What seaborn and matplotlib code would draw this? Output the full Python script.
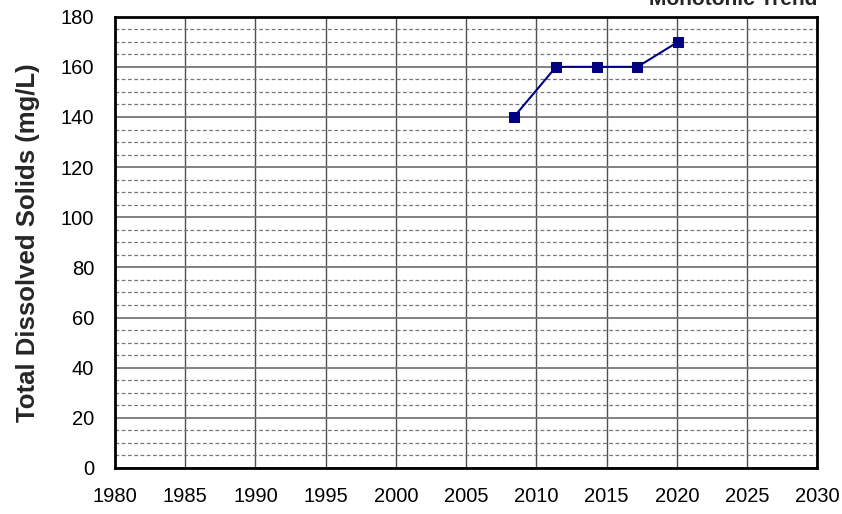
import matplotlib
matplotlib.use("Agg")
import matplotlib.pyplot as plt
import seaborn as sns
import pandas as pd
from matplotlib.ticker import MultipleLocator

years = [2008.4, 2011.4, 2014.3, 2017.2, 2020.1]
tds = [140, 160, 160, 160, 170]

df = pd.DataFrame({"year": years, "tds": tds})

sns.set_theme(style="white")
plt.rcParams["font.family"] = ["Liberation Sans", "DejaVu Sans"]

fig = plt.figure(figsize=(8.42, 5.14), dpi=100)
ax = fig.add_axes([0.1366, 0.0895, 0.834, 0.878])

sns.lineplot(data=df, x="year", y="tds", color="#000080", marker="s",
             markersize=7, markeredgecolor="#000080", linewidth=1.5, ax=ax, zorder=5)

ax.set_xlim(1980, 2030)
ax.set_ylim(0, 180)
ax.xaxis.set_major_locator(MultipleLocator(5))
ax.yaxis.set_major_locator(MultipleLocator(20))
ax.yaxis.set_minor_locator(MultipleLocator(5))

ax.grid(which="major", axis="x", color="#505050", linewidth=1.0, linestyle="-")
ax.grid(which="major", axis="y", color="#777777", linewidth=1.3, linestyle="-")
ax.grid(which="minor", axis="y", color="#777777", linewidth=0.9, linestyle=(0, (3, 2)))
ax.set_axisbelow(True)

for s in ax.spines.values():
    s.set_color("black")
    s.set_linewidth(2)

ax.tick_params(axis="both", which="both", length=0, labelsize=14.5, colors="black")
ax.tick_params(axis="y", pad=15)
ax.tick_params(axis="x", pad=14)
ax.set_xlabel("")
ax.set_ylabel("Total Dissolved Solids (mg/L)", fontsize=18.5, fontweight="bold", labelpad=15)

fig.text(0.971, 1 - 5 / 514, "Monotonic Trend", ha="right", va="baseline",
         fontsize=15, fontweight="bold")

fig.savefig("out.png", dpi=100)
